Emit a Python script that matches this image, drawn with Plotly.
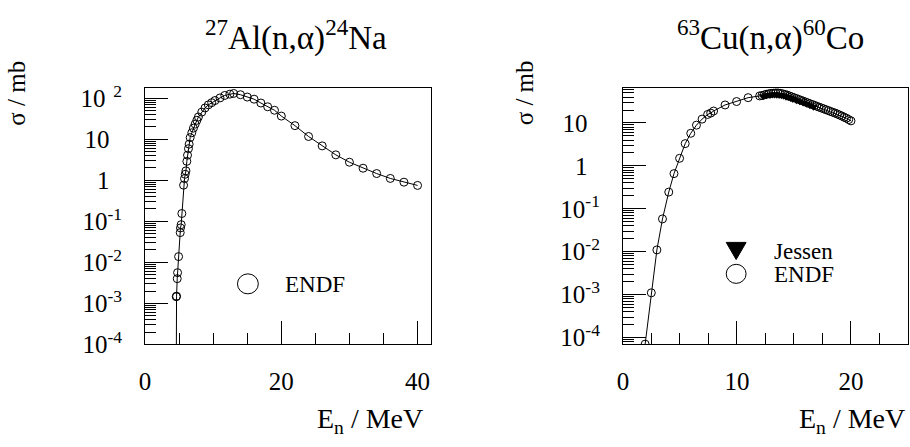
import plotly.graph_objects as go

W, H = 910, 447

# ---------------- data ----------------
al_E = [4.55, 4.58, 4.62, 4.72, 4.77, 4.92, 5.16, 5.2, 5.3, 5.4, 5.65, 5.79, 5.89, 6.0,
        6.13, 6.23, 6.37, 6.47, 6.62, 6.86, 7.1, 7.35, 7.6, 7.83, 8.32, 8.8, 9.29, 9.78,
        10.26, 11.0, 11.7, 12.45, 13.0, 14.0, 15.0, 16.0, 17.0, 18.0, 19.0, 20.0, 22.0,
        24.0, 26.0, 28.0, 30.0, 32.0, 34.0, 36.0, 38.0, 40.0]
al_sigma = [1e-6, 1.45e-3, 1.5e-3, 4.0e-3, 5.6e-3, 1.38e-2, 5.3e-2, 6.9e-2, 8.3e-2, 0.155,
            0.76, 1.1, 1.4, 1.7, 2.9, 4.1, 5.9, 7.6, 11.0, 14.4, 18.7, 23.4, 29.0, 35.0,
            46.0, 58.0, 69.0, 78.0, 88.0, 102.0, 117.0, 126.0, 131.0, 122.0, 107.0, 95.0,
            76.6, 62.0, 51.0, 36.8, 21.5, 11.7, 6.9, 4.17, 2.76, 1.97, 1.46, 1.11, 0.90, 0.75]

cu_E = [1.95, 2.49, 2.98, 3.47, 4.02, 4.48, 4.97, 5.46, 5.95, 6.45, 6.94, 7.43, 7.7, 7.95,
        8.96, 9.97, 10.98, 11.99,
        12.2, 12.4, 12.6, 12.8, 13.0, 13.2, 13.4, 13.6, 13.8, 14.0, 14.2, 14.4, 14.6, 14.8,
        15.0, 15.2, 15.4, 15.6, 15.8, 16.0, 16.2, 16.4, 16.6, 16.8, 17.0, 17.2, 17.4, 17.6,
        17.8, 18.0, 18.2, 18.4, 18.6, 18.8, 19.0, 19.2, 19.4, 19.6, 19.8, 20.0]
cu_sigma = [7.0e-5, 1.1e-3, 1.1e-2, 5.8e-2, 0.245, 0.66, 1.5, 3.3, 5.75, 8.9, 12.3, 15.8,
            17.0, 19.0, 26.3, 31.6, 38.9, 42.7,
            43.7, 45.2, 46.8, 47.9, 49.0, 49.5, 50.1, 50.1, 49.0, 47.9, 46.2, 44.7, 42.7,
            40.7, 38.9, 37.2, 35.5, 33.9, 32.4, 30.9, 29.5, 28.2, 26.9, 25.7, 24.5, 23.4,
            22.4, 21.4, 20.4, 19.5, 18.6, 17.8, 17.0, 16.2, 15.3, 14.5, 13.6, 12.9, 12.0, 11.2]

jessen_E = [12.3, 12.6, 12.9, 13.1, 13.3, 13.5, 13.7, 13.9, 14.1, 14.3, 14.5, 14.7, 14.9,
            15.2, 15.5, 15.8, 16.1, 16.4, 16.7]
jessen_sigma = [42, 44, 45, 46, 46, 45.5, 45, 44, 43, 41, 40, 38, 36, 34, 32, 30, 28, 26, 24]

PAD = "\u2007"  # figure space so plain labels line up with the base of the powers of ten
al_yticks = [1e-4, 1e-3, 1e-2, 1e-1, 1, 10, 100]
al_yticktext = ["10<sup>-4</sup>", "10<sup>-3</sup>", "10<sup>-2</sup>", "10<sup>-1</sup>",
                "1" + PAD, "10" + PAD, "10<sup>\u2009 2</sup>"]
cu_yticks = [1e-4, 1e-3, 1e-2, 1e-1, 1, 10]
cu_yticktext = ["10<sup>-4</sup>", "10<sup>-3</sup>", "10<sup>-2</sup>", "10<sup>-1</sup>",
                "1" + PAD, "10" + PAD]
al_xticks = [0, 20, 40]
cu_xticks = [0, 10, 20]

FONT = "'Liberation Serif', 'Times New Roman', 'DejaVu Serif', serif"
minor_log = [m * 10.0 ** k for k in range(-5, 3) for m in range(2, 10)]

fig = go.Figure()

mk = dict(symbol="circle-open", size=8, color="black", line=dict(width=1, color="black"))
fig.add_trace(go.Scatter(x=al_E, y=al_sigma, mode="lines+markers", marker=mk,
                         line=dict(color="black", width=1), xaxis="x", yaxis="y",
                         name="ENDF", showlegend=False))
fig.add_trace(go.Scatter(x=cu_E, y=cu_sigma, mode="lines+markers", marker=mk,
                         line=dict(color="black", width=1), xaxis="x2", yaxis="y2",
                         name="ENDF", showlegend=False))
fig.add_trace(go.Scatter(x=jessen_E, y=jessen_sigma, mode="markers",
                         marker=dict(symbol="triangle-down", size=8, color="black"),
                         xaxis="x2", yaxis="y2", name="Jessen", showlegend=False))

ydom = [(H - 354) / H, (H - 85) / H]

def xaxis(dom, rng, vals, minor_dt, anchor):
    return dict(domain=dom, range=rng, anchor=anchor, tickmode="array", tickvals=vals,
                ticktext=[str(v) for v in vals], ticks="inside", ticklen=23, tickwidth=1,
                tickcolor="black", showline=True, linecolor="black", linewidth=1,
                mirror=True, showgrid=False, zeroline=False, ticklabelstandoff=15,
                tickfont=dict(family=FONT, size=25, color="black"),
                minor=dict(dtick=minor_dt, tick0=0, ticks="inside", ticklen=11,
                           tickwidth=1, tickcolor="black", showgrid=False))

def yaxis(rng, vals, text, anchor):
    return dict(domain=ydom, type="log", range=rng, anchor=anchor, tickmode="array",
                tickvals=vals, ticktext=text, ticks="inside", ticklen=23, tickwidth=1,
                tickcolor="black", showline=True, linecolor="black", linewidth=1,
                mirror=True, showgrid=False, zeroline=False, ticklabelstandoff=17,
                tickfont=dict(family=FONT, size=25, color="black"),
                minor=dict(tickmode="array", tickvals=minor_log, ticks="inside",
                           ticklen=11, tickwidth=1, tickcolor="black", showgrid=False))

fig.update_layout(
    width=W, height=H, margin=dict(l=0, r=0, t=0, b=0),
    paper_bgcolor="white", plot_bgcolor="white", showlegend=False,
    xaxis=xaxis([140 / W, 428 / W], [0, 42], al_xticks, 5, "y"),
    yaxis=yaxis([-4, 2.25], al_yticks, al_yticktext, "x"),
    xaxis2=xaxis([621 / W, 908 / W], [0, 25], cu_xticks, 2.5, "y2"),
    yaxis2=yaxis([-4.16, 1.815], cu_yticks, cu_yticktext, "x2"),
    font=dict(family=FONT, color="black"),
)

def px(x):
    return x / W

def py(y):
    return 1 - y / H

ann = []
def text(s, x, y, size=24, angle=0, xanchor="center"):
    ann.append(dict(text=s, x=px(x), y=py(y), xref="paper", yref="paper", showarrow=False,
                    xanchor=xanchor, yanchor="middle", textangle=angle,
                    font=dict(family=FONT, size=size, color="black")))

text("<sup>27</sup>Al(n,α)<sup>24</sup>Na", 292, 30, size=33)
text("<sup>63</sup>Cu(n,α)<sup>60</sup>Co", 770, 30, size=33)
text("σ / mb", 11, 90, size=25, angle=-90)
text("σ / mb", 522, 90, size=25, angle=-90)
text("E<sub>n</sub> / MeV", 422, 434, size=28, xanchor="right")
text("E<sub>n</sub> / MeV", 907, 434, size=28, xanchor="right")
text("ENDF", 279, 291, size=23, xanchor="left")
text("Jessen", 771, 257, size=23, xanchor="left")
text("ENDF", 771, 281, size=23, xanchor="left")

shapes = [
    dict(type="circle", xref="paper", yref="paper", x0=px(233), x1=px(254),
         y0=py(301), y1=py(280), line=dict(color="black", width=1)),
    dict(type="circle", xref="paper", yref="paper", x0=px(725), x1=px(745),
         y0=py(290), y1=py(270), line=dict(color="black", width=1)),
    dict(type="path", xref="paper", yref="paper",
         path=f"M {px(725)} {py(247)} L {px(745)} {py(247)} L {px(735)} {py(265)} Z",
         fillcolor="black", line=dict(color="black", width=1)),
]

fig.update_layout(annotations=ann, shapes=shapes)
fig.write_html("out.html")
